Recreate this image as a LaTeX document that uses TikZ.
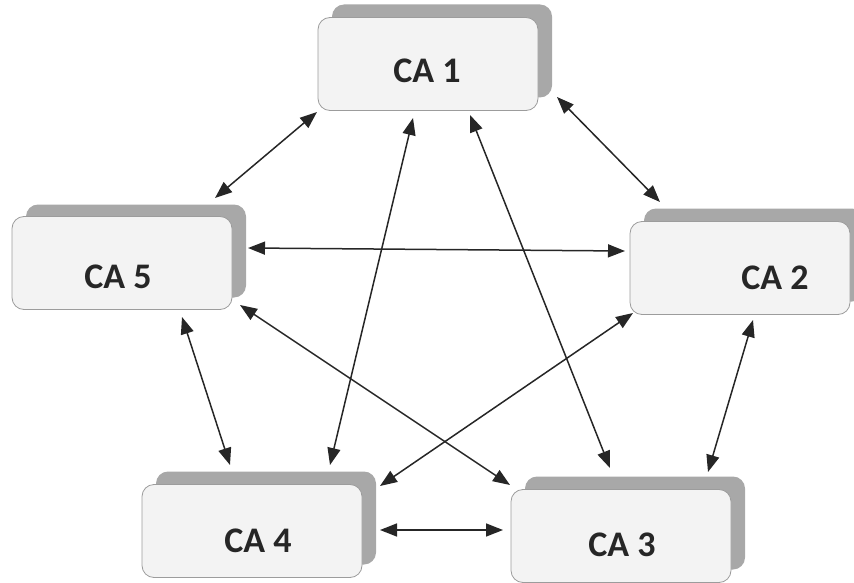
\documentclass[tikz,border=0pt]{standalone}
\usepackage{fontspec}
\setmainfont{Carlito}
\usetikzlibrary{arrows.meta}
\definecolor{boxfill}{HTML}{F3F3F3}
\definecolor{boxline}{HTML}{9C9C9C}
\definecolor{shadowfill}{HTML}{A8A8A8}
\definecolor{inkc}{HTML}{262626}
\tikzset{
  cabox/.style={draw=boxline, line width=0.8pt, fill=boxfill, rounded corners=12pt,
    minimum width=220pt, minimum height=93pt, inner sep=0pt},
  cashadow/.style={fill=shadowfill, rounded corners=12pt,
    minimum width=220pt, minimum height=93pt, inner sep=0pt},
  calabel/.style={text=inkc, font=\bfseries\fontsize{36}{40}\selectfont},
  link/.style={draw=inkc, line width=1.5pt, {Triangle[length=17pt,width=13pt]}-{Triangle[length=17pt,width=13pt]}}
}
\begin{document}
\begin{tikzpicture}[x=1pt,y=-1pt]
\useasboundingbox (0,0) rectangle (854,583);
% shadows
\node[cashadow] (s1) at (442,51) {};
\node[cashadow] (s5) at (136,251) {};
\node[cashadow] (s2) at (754,255) {};
\node[cashadow] (s4) at (266,518) {};
\node[cashadow] (s3) at (635,523) {};
% front boxes
\node[cabox] (ca1) at (428,64) {};
\node[cabox] (ca5) at (122,263) {};
\node[cabox] (ca2) at (740,268) {};
\node[cabox] (ca4) at (252,531) {};
\node[cabox] (ca3) at (621,536) {};
% labels
\node[calabel] (t1) at (427,71) {CA 1};
\node[calabel] (t5) at (118,277) {CA 5};
\node[calabel] (t2) at (775,278) {CA 2};
\node[calabel] (t4) at (258,541) {CA 4};
\node[calabel] (t3) at (622,545) {CA 3};
% connector ends
\coordinate (p15a) at (317,112); \coordinate (p15b) at (215,198);
\coordinate (p12a) at (557,97);  \coordinate (p12b) at (660,202);
\coordinate (p52a) at (248,248); \coordinate (p52b) at (625,251);
\coordinate (p14a) at (413,118); \coordinate (p14b) at (330,465);
\coordinate (p13a) at (470,115); \coordinate (p13b) at (610,468);
\coordinate (p54a) at (182,317); \coordinate (p54b) at (230,465);
\coordinate (p53a) at (240,305); \coordinate (p53b) at (510,485);
\coordinate (p24a) at (633,313); \coordinate (p24b) at (380,486);
\coordinate (p23a) at (753,320); \coordinate (p23b) at (708,472);
\coordinate (p43a) at (380,530); \coordinate (p43b) at (503,530);
% connectors
\draw[link] (p15a) -- (p15b);
\draw[link] (p12a) -- (p12b);
\draw[link] (p52a) -- (p52b);
\draw[link] (p14a) -- (p14b);
\draw[link] (p13a) -- (p13b);
\draw[link] (p54a) -- (p54b);
\draw[link] (p53a) -- (p53b);
\draw[link] (p24a) -- (p24b);
\draw[link] (p23a) -- (p23b);
\draw[link] (p43a) -- (p43b);
\end{tikzpicture}
\end{document}
